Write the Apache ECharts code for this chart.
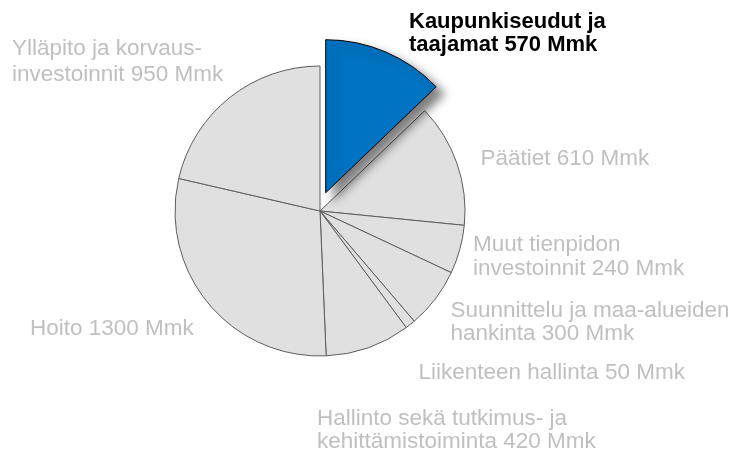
<!DOCTYPE html>
<html>
<head>
<meta charset="utf-8">
<script src="https://cdn.jsdelivr.net/npm/echarts@6/dist/echarts.min.js"></script>
<style>html,body{margin:0;padding:0;background:#fff}#c{width:736px;height:454px}</style>
</head>
<body>
<div id="c"></div>
<script>
// Data
var categories = [
  'Kaupunkiseudut ja\ntaajamat 570 Mmk',
  'Päätiet 610 Mmk',
  'Muut tienpidon\ninvestoinnit 240 Mmk',
  'Suunnittelu ja maa-alueiden\nhankinta 300 Mmk',
  'Liikenteen hallinta 50 Mmk',
  'Hallinto sekä tutkimus- ja\nkehittämistoiminta 420 Mmk',
  'Hoito 1300 Mmk',
  'Ylläpito ja korvaus-\ninvestoinnit 950 Mmk'
];
var values = [570, 610, 240, 300, 50, 420, 1300, 950];
var highlightIndex = 0;

// Layout (label anchors, left/top)
var labelPos = [
  [409, 10], [480.5, 147.5], [473, 233.3], [450.5, 298.7],
  [418.5, 360.7], [317, 406.7], [30, 316.8], [12, 35.7]
];
var labelLH = [23.3, 23.5, 23.5, 23.5, 23.5, 23.5, 23.5, 26.2];

var grey = '#e0e0e0', edge = '#5e5e5e', textGrey = '#c0c0c0', blue = '#0073c2';

var baseData = categories.map(function (n, i) {
  var isHi = i === highlightIndex;
  return {
    name: n, value: values[i],
    itemStyle: isHi ? {color: 'rgba(0,0,0,0)', borderWidth: 0} : {color: grey, borderColor: edge, borderWidth: 1},
    label: {show: !isHi, lineHeight: labelLH[i]}
  };
});
var hiData = categories.map(function (n, i) {
  var isHi = i === highlightIndex;
  return {
    name: n, value: values[i],
    itemStyle: isHi ? {
      color: blue, borderColor: '#000', borderWidth: 1,
      shadowBlur: 10, shadowColor: 'rgba(0,0,0,0.5)', shadowOffsetX: 8, shadowOffsetY: 7
    } : {color: 'rgba(0,0,0,0)', borderWidth: 0},
    label: {show: isHi, lineHeight: labelLH[i]}
  };
});

function layoutFn(p) {
  var pos = labelPos[p.dataIndex];
  return {x: pos[0], y: pos[1], align: 'left', verticalAlign: 'top'};
}

var chart = echarts.init(document.getElementById('c'), null, {renderer: 'canvas'});
chart.setOption({
  animation: false,
  backgroundColor: '#fff',
  series: [{
    type: 'pie',
    center: [320, 211],
    radius: 145,
    startAngle: 90,
    clockwise: true,
    avoidLabelOverlap: false,
    silent: true,
    label: {
      position: 'outside', color: textGrey,
      fontFamily: 'Liberation Sans, Arial, sans-serif', fontSize: 22.5,
      formatter: '{b}', align: 'left'
    },
    labelLine: {show: false},
    labelLayout: layoutFn,
    data: baseData
  }, {
    type: 'pie',
    center: [325.7, 192.7],
    radius: 153,
    startAngle: 90,
    clockwise: true,
    avoidLabelOverlap: false,
    silent: true,
    label: {
      position: 'outside', color: '#000', fontWeight: 'bold',
      fontFamily: 'Liberation Sans, Arial, sans-serif', fontSize: 22,
      formatter: '{b}', align: 'left'
    },
    labelLine: {show: false},
    labelLayout: layoutFn,
    data: hiData
  }]
});
</script>
</body>
</html>
